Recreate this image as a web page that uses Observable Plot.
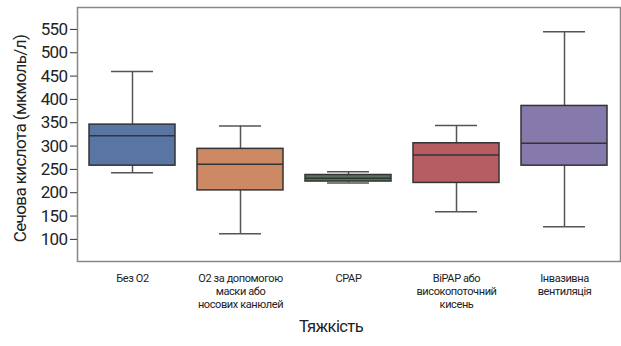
<!DOCTYPE html>
<html>
<head>
<meta charset="utf-8">
<script src="https://cdn.jsdelivr.net/npm/d3@7"></script>
<script src="https://cdn.jsdelivr.net/npm/@observablehq/plot@0.6"></script>
<style>
  html, body { margin: 0; padding: 0; background: #fff; }
  #chart svg { display: block; font-family: "Roboto", sans-serif; }
  #chart g[aria-label="y-axis tick label"] text { letter-spacing: -0.6px; }
  #chart g[aria-label="x-axis tick label"] text { letter-spacing: -0.4px; }
  #chart g[aria-label="text"] text { letter-spacing: -0.6px; }
</style>
</head>
<body>
<div id="chart"></div>
<script>
const categories = ["Без О2", "О2 за допомогою\nмаски або\nносових канюлей", "CPAP", "BiPAP або\nвисокопоточний\nкисень", "Інвазивна\nвентиляція"];
const whiskerLow = [243, 112, 221, 159, 127];
const q1 = [258, 205, 224, 221, 258];
const median = [322, 261, 231, 281, 306];
const q3 = [346, 294, 238, 306, 386];
const whiskerHigh = [460, 343, 245, 344, 545];
const colors = ["#5875a4", "#cc8963", "#56735e", "#b55d60", "#857aab"];
const yTicks = [100, 150, 200, 250, 300, 350, 400, 450, 500, 550];
const xTitle = "Тяжкість";
const yTitle = "Сечова кислота (мкмоль/л)";

const data = categories.map((c, i) => ({
  cat: c, lo: whiskerLow[i], q1: q1[i], med: median[i], q3: q3[i], hi: whiskerHigh[i], color: colors[i]
}));

const edge = "#333333";
const whisk = "#555555";

const chart = Plot.plot({
  width: 621,
  height: 346,
  marginTop: 7,
  marginBottom: 85,
  marginLeft: 77,
  marginRight: 1,
  x: { domain: categories, paddingInner: 0.2, paddingOuter: 0.1, label: null },
  y: { domain: [52.6, 597], label: null },
  marks: [
    Plot.frame({ stroke: "#888", strokeWidth: 1.5 }),
    Plot.ruleX(data, { x: "cat", y1: "q3", y2: "hi", stroke: whisk, strokeWidth: 1.5 }),
    Plot.ruleX(data, { x: "cat", y1: "lo", y2: "q1", stroke: whisk, strokeWidth: 1.5 }),
    Plot.tickY(data, { x: "cat", y: "hi", stroke: whisk, strokeWidth: 1.5, insetLeft: 22, insetRight: 22 }),
    Plot.tickY(data, { x: "cat", y: "lo", stroke: whisk, strokeWidth: 1.5, insetLeft: 22, insetRight: 22 }),
    Plot.barY(data, { x: "cat", y1: "q1", y2: "q3", fill: "color", stroke: edge, strokeWidth: 1.5 }),
    Plot.tickY(data, { x: "cat", y: "med", stroke: edge, strokeWidth: 1.5 }),
    Plot.axisY({ ticks: yTicks, tickSize: 7, tickPadding: 3, fontSize: 17, stroke: "#333", color: "#222", label: null }),
    Plot.axisX({ tickSize: 0, tickPadding: 11, fontSize: 11, lineHeight: 1.18, color: "#222", label: null }),
    Plot.text([yTitle], { frameAnchor: "left", rotate: -90, dx: -57, dy: 4, fontSize: 17, textAnchor: "middle", fill: "#222" }),
    Plot.text([xTitle], { frameAnchor: "bottom", dx: -18, dy: 59, lineAnchor: "top", fontSize: 16.5, textAnchor: "middle", fill: "#222" })
  ]
});
document.getElementById("chart").appendChild(chart);
</script>
</body>
</html>
